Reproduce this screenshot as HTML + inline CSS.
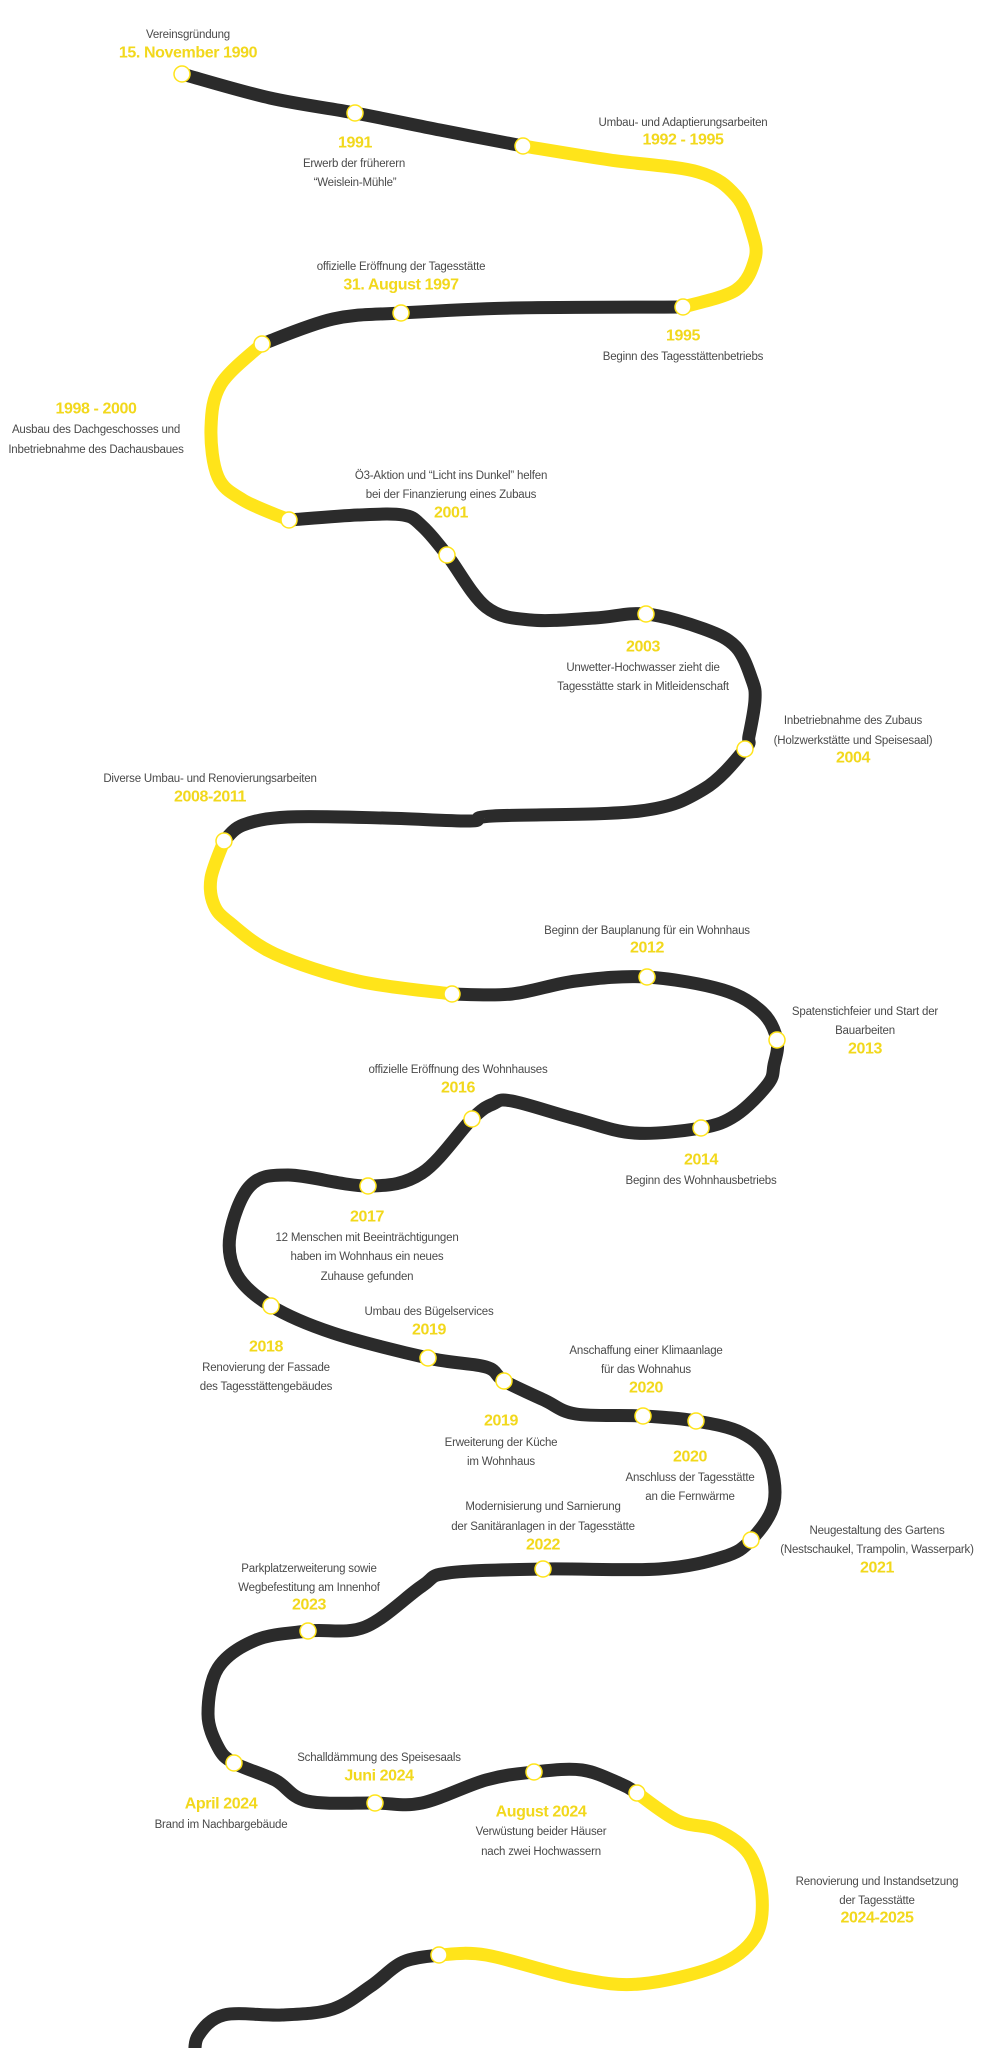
<!DOCTYPE html>
<html><head><meta charset="utf-8"><style>
html,body{margin:0;padding:0;background:#fff;}
svg{display:block;}
.t{font-family:"Liberation Sans",sans-serif;font-size:11.5px;fill:#4a4a4a;text-anchor:middle;dominant-baseline:central;letter-spacing:-0.2px;}
.y{font-family:"Liberation Sans",sans-serif;font-size:16px;font-weight:bold;fill:#f2d81c;text-anchor:middle;dominant-baseline:central;letter-spacing:-0.4px;}
.k{fill:none;stroke:#2b2b2b;stroke-width:13;stroke-linecap:round;stroke-linejoin:round;}
.g{fill:none;stroke:#ffe41a;stroke-width:13;stroke-linecap:round;stroke-linejoin:round;}
.d{fill:#fff;stroke:#ffe41a;stroke-width:1.5;}
</style></head><body>
<svg width="998" height="2048" viewBox="0 0 998 2048" xmlns="http://www.w3.org/2000/svg">
<path class="k s" d="M182,74 L270,98 L355,113 L440,130 L523,146"/>
<path class="g s" d="M523,146 L610,160 L698,172 L736,196 L752,232 L755,259 L736,290 L683,307"/>
<path class="k s" d="M683,307 L512,308 L401,313 L333,319 L262,344"/>
<path class="g s" d="M262,344 L221,384 L211,428 L218,477 L243,500 L289,520"/>
<path class="k s" d="M289,520 L358,515 L403,515 L422,526 L447,555 L486,607 L531,620 L595,618 L646,614 L704,629 L736,647 L752,680 L755,700 L749,736 L745,749 L704,789 L640,811 L493,816 L470,821 L384,818 L288,817 L243,825 L224,841"/>
<path class="g s" d="M224,841 L211,878 L214,905 L230,923 L275,954 L358,981 L452,994"/>
<path class="k s" d="M452,994 L512,994 L576,981 L647,977 L723,990 L762,1012 L777,1040 L774,1065 L768,1084 L736,1115 L701,1128 L634,1133 L576,1119 L512,1101 L493,1104 L472,1119 L422,1173 L368,1186 L288,1175 L250,1186 L230,1235 L237,1275 L271,1306 L333,1333 L428,1358 L486,1367 L504,1381 L544,1400 L576,1414 L643,1416 L696,1421 L742,1433 L768,1458 L774,1503 L751,1540 L723,1557 L659,1569 L543,1569 L448,1573 L422,1586 L365,1627 L308,1631 L256,1640 L218,1668 L208,1714 L218,1747 L234,1763 L275,1780 L307,1801 L375,1803 L422,1803 L486,1780 L534,1772 L582,1770 L621,1784 L637,1793"/>
<path class="g s" d="M637,1793 L678,1821 L717,1830 L749,1854 L762,1896 L755,1937 L717,1966 L640,1984 L576,1978 L486,1955 L439,1955"/>
<path class="k s" d="M439,1955 L403,1962 L371,1986 L333,2009 L282,2015 L224,2015 L198,2036 L195,2060"/>
<g>
<circle class="d" cx="182" cy="74" r="8"/><circle class="d" cx="355" cy="113" r="8"/><circle class="d" cx="523" cy="146" r="8"/>
<circle class="d" cx="683" cy="307" r="8"/><circle class="d" cx="401" cy="313" r="8"/><circle class="d" cx="262" cy="344" r="8"/>
<circle class="d" cx="289" cy="520" r="8"/><circle class="d" cx="447" cy="555" r="8"/><circle class="d" cx="646" cy="614" r="8"/>
<circle class="d" cx="745" cy="749" r="8"/><circle class="d" cx="224" cy="841" r="8"/><circle class="d" cx="452" cy="994" r="8"/>
<circle class="d" cx="647" cy="977" r="8"/><circle class="d" cx="777" cy="1040" r="8"/><circle class="d" cx="701" cy="1128" r="8"/>
<circle class="d" cx="472" cy="1119" r="8"/><circle class="d" cx="368" cy="1186" r="8"/><circle class="d" cx="271" cy="1306" r="8"/>
<circle class="d" cx="428" cy="1358" r="8"/><circle class="d" cx="504" cy="1381" r="8"/><circle class="d" cx="643" cy="1416" r="8"/>
<circle class="d" cx="696" cy="1421" r="8"/><circle class="d" cx="751" cy="1540" r="8"/><circle class="d" cx="543" cy="1569" r="8"/>
<circle class="d" cx="308" cy="1631" r="8"/><circle class="d" cx="234" cy="1763" r="8"/><circle class="d" cx="375" cy="1803" r="8"/>
<circle class="d" cx="534" cy="1772" r="8"/><circle class="d" cx="637" cy="1793" r="8"/><circle class="d" cx="439" cy="1955" r="8"/>
</g>
<text class="t" x="188" y="35">Vereinsgründung</text><text class="y" x="188" y="53">15. November 1990</text>
<text class="y" x="355" y="143">1991</text><text class="t" x="354" y="164">Erwerb der früherern</text><text class="t" x="355" y="183">“Weislein-Mühle”</text>
<text class="t" x="683" y="123">Umbau- und Adaptierungsarbeiten</text><text class="y" x="683" y="140">1992 - 1995</text>
<text class="t" x="401" y="267">offizielle Eröffnung der Tagesstätte</text><text class="y" x="401" y="285">31. August 1997</text>
<text class="y" x="683" y="336">1995</text><text class="t" x="683" y="357">Beginn des Tagesstättenbetriebs</text>
<text class="y" x="96" y="409">1998 - 2000</text><text class="t" x="96" y="430">Ausbau des Dachgeschosses und</text><text class="t" x="96" y="450">Inbetriebnahme des Dachausbaues</text>
<text class="t" x="451" y="476">Ö3-Aktion und “Licht ins Dunkel” helfen</text><text class="t" x="451" y="495">bei der Finanzierung eines Zubaus</text><text class="y" x="451" y="513">2001</text>
<text class="y" x="643" y="647">2003</text><text class="t" x="643" y="668">Unwetter-Hochwasser zieht die</text><text class="t" x="643" y="687">Tagesstätte stark in Mitleidenschaft</text>
<text class="t" x="853" y="721">Inbetriebnahme des Zubaus</text><text class="t" x="853" y="741">(Holzwerkstätte und Speisesaal)</text><text class="y" x="853" y="758">2004</text>
<text class="t" x="210" y="779">Diverse Umbau- und Renovierungsarbeiten</text><text class="y" x="210" y="797">2008-2011</text>
<text class="t" x="647" y="931">Beginn der Bauplanung für ein Wohnhaus</text><text class="y" x="647" y="948">2012</text>
<text class="t" x="865" y="1012">Spatenstichfeier und Start der</text><text class="t" x="865" y="1031">Bauarbeiten</text><text class="y" x="865" y="1049">2013</text>
<text class="t" x="458" y="1070">offizielle Eröffnung des Wohnhauses</text><text class="y" x="458" y="1088">2016</text>
<text class="y" x="701" y="1160">2014</text><text class="t" x="701" y="1181">Beginn des Wohnhausbetriebs</text>
<text class="y" x="367" y="1217">2017</text><text class="t" x="367" y="1238">12 Menschen mit Beeinträchtigungen</text><text class="t" x="367" y="1257">haben im Wohnhaus ein neues</text><text class="t" x="367" y="1277">Zuhause gefunden</text>
<text class="t" x="429" y="1312">Umbau des Bügelservices</text><text class="y" x="429" y="1330">2019</text>
<text class="y" x="266" y="1347">2018</text><text class="t" x="266" y="1368">Renovierung der Fassade</text><text class="t" x="266" y="1387">des Tagesstättengebäudes</text>
<text class="t" x="646" y="1351">Anschaffung einer Klimaanlage</text><text class="t" x="646" y="1370">für das Wohnahus</text><text class="y" x="646" y="1388">2020</text>
<text class="y" x="501" y="1421">2019</text><text class="t" x="501" y="1443">Erweiterung der Küche</text><text class="t" x="501" y="1462">im Wohnhaus</text>
<text class="y" x="690" y="1457">2020</text><text class="t" x="690" y="1478">Anschluss der Tagesstätte</text><text class="t" x="690" y="1497">an die Fernwärme</text>
<text class="t" x="543" y="1507">Modernisierung und Sarnierung</text><text class="t" x="543" y="1527">der Sanitäranlagen in der Tagesstätte</text><text class="y" x="543" y="1545">2022</text>
<text class="t" x="877" y="1531">Neugestaltung des Gartens</text><text class="t" x="877" y="1550">(Nestschaukel, Trampolin, Wasserpark)</text><text class="y" x="877" y="1568">2021</text>
<text class="t" x="309" y="1569">Parkplatzerweiterung sowie</text><text class="t" x="309" y="1588">Wegbefestitung am Innenhof</text><text class="y" x="309" y="1605">2023</text>
<text class="t" x="379" y="1758">Schalldämmung des Speisesaals</text><text class="y" x="379" y="1776">Juni 2024</text>
<text class="y" x="221" y="1804">April 2024</text><text class="t" x="221" y="1825">Brand im Nachbargebäude</text>
<text class="y" x="541" y="1812">August 2024</text><text class="t" x="541" y="1832">Verwüstung beider Häuser</text><text class="t" x="541" y="1852">nach zwei Hochwassern</text>
<text class="t" x="877" y="1882">Renovierung und Instandsetzung</text><text class="t" x="877" y="1901">der Tagesstätte</text><text class="y" x="877" y="1918">2024-2025</text>
</svg>
<script>
document.querySelectorAll('path.s').forEach(function(p){
  var n=p.getAttribute('d').match(/-?\d+(\.\d+)?/g).map(Number),pts=[];
  for(var i=0;i<n.length;i+=2)pts.push([n[i],n[i+1]]);
  var d='M'+pts[0][0]+','+pts[0][1];
  for(var i=0;i<pts.length-1;i++){
    var p0=pts[i-1]||pts[i],p1=pts[i],p2=pts[i+1],p3=pts[i+2]||p2;
    var c1x=p1[0]+(p2[0]-p0[0])/6,c1y=p1[1]+(p2[1]-p0[1])/6;
    var c2x=p2[0]-(p3[0]-p1[0])/6,c2y=p2[1]-(p3[1]-p1[1])/6;
    d+=' C'+c1x.toFixed(1)+','+c1y.toFixed(1)+' '+c2x.toFixed(1)+','+c2y.toFixed(1)+' '+p2[0]+','+p2[1];
  }
  p.setAttribute('d',d);
});
</script>
</body></html>
